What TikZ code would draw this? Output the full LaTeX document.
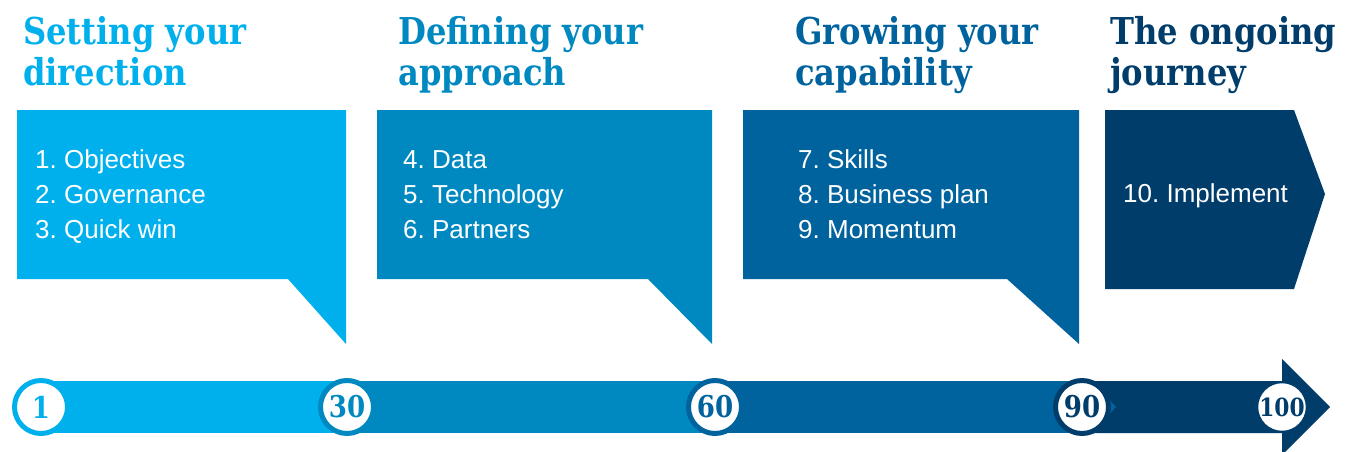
\documentclass[tikz,border=0pt]{standalone}
\usepackage{fontspec}
\setmainfont{Liberation Sans}
\newfontfamily\titlefont[FakeStretch=0.87]{DejaVu Serif}
\definecolor{cA}{RGB}{0,176,236}
\definecolor{cB}{RGB}{0,137,192}
\definecolor{cC}{RGB}{0,99,158}
\definecolor{cD}{RGB}{0,61,106}
\tikzset{
  title/.style={anchor=base west, inner sep=0pt, font=\titlefont\bfseries\fontsize{37}{40}\selectfont},
  body/.style={anchor=base west, inner sep=0pt, text=white, font=\fontsize{26}{30}\selectfont},
  ring/.style={circle, fill=white, line width=5pt, minimum size=53pt, inner sep=0pt, font=\titlefont\bfseries\fontsize{30}{30}\selectfont},
}
\begin{document}
\frenchspacing
\begin{tikzpicture}[x=1pt,y=-1pt]
\useasboundingbox (0,0) rectangle (1353,452);
% boxes
\fill[cA] (17,110) -- (346,110) -- (346,344) -- (288,279) -- (17,279) -- cycle;
\fill[cB] (377,110) -- (712,110) -- (712,344) -- (648,279) -- (377,279) -- cycle;
\fill[cC] (743,110) -- (1079,110) -- (1079,344) -- (1007,279) -- (743,279) -- cycle;
\fill[cD] (1105,110) -- (1294,110) -- (1325,194) -- (1294,289) -- (1105,289) -- cycle;
% titles
\node[title, text=cA] (t1a) at (23,45) {Setting your};
\node[title, text=cA] (t1b) at (23,86) {direction};
\node[title, text=cB] (t2a) at (398,45) {Defining your};
\node[title, text=cB] (t2b) at (398,86) {approach};
\node[title, text=cC] (t3a) at (795,45) {Growing your};
\node[title, text=cC] (t3b) at (795,86) {capability};
\node[title, text=cD] (t4a) at (1110,45) {The ongoing};
\node[title, text=cD] (t4b) at (1110,86) {journey};
% body
\node[body] (b1) at (35,168) {1. Objectives};
\node[body] (b2) at (35,203) {2. Governance};
\node[body] (b3) at (35,238) {3. Quick win};
\node[body] (b4) at (403,168) {4. Data};
\node[body] (b5) at (403,203) {5. Technology};
\node[body] (b6) at (403,238) {6. Partners};
\node[body] (b7) at (798,168) {7. Skills};
\node[body] (b8) at (798,203) {8. Business plan};
\node[body] (b9) at (798,238) {9. Momentum};
\node[body] (b10) at (1123,202) {10. Implement};
% timeline
\coordinate (p1) at (41,407);
\coordinate (p30) at (347,407);
\coordinate (p60) at (715,407);
\coordinate (p90) at (1082,407);
\coordinate (p100) at (1282,407);
\fill[cA] ([yshift=26pt]p1) rectangle ([yshift=-26pt]p30);
\fill[cB] ([yshift=26pt]p30) rectangle ([yshift=-26pt]p60);
\fill[cC] ([yshift=26pt]p60) rectangle ([yshift=-26pt]p90);
\fill[cD] ([yshift=26pt]p90) -- ([yshift=26pt]p100) -- ([yshift=48pt]p100) -- ([xshift=48pt]p100) -- ([yshift=-48pt]p100) -- ([yshift=-26pt]p100) -- ([yshift=-26pt]p90) -- cycle;
\node[ring, draw=cA, text=cA] (n1) at (p1) {1};
\node[ring, draw=cB, text=cB] (n30) at (p30) {30};
\node[ring, draw=cC, text=cC] (n60) at (p60) {60};
\fill[cC] ([xshift=26pt,yshift=9pt]p90) -- ([xshift=34pt]p90) -- ([xshift=26pt,yshift=-9pt]p90) -- cycle;
\node[ring, draw=cD, text=cD] (n90) at (p90) {90};
\node[circle, fill=white, draw=cD, line width=1.5pt, minimum size=45pt, inner sep=0pt, text=cD, font=\titlefont\bfseries\fontsize{25}{25}\selectfont] (n100) at (p100) {100};
\end{tikzpicture}
\end{document}
